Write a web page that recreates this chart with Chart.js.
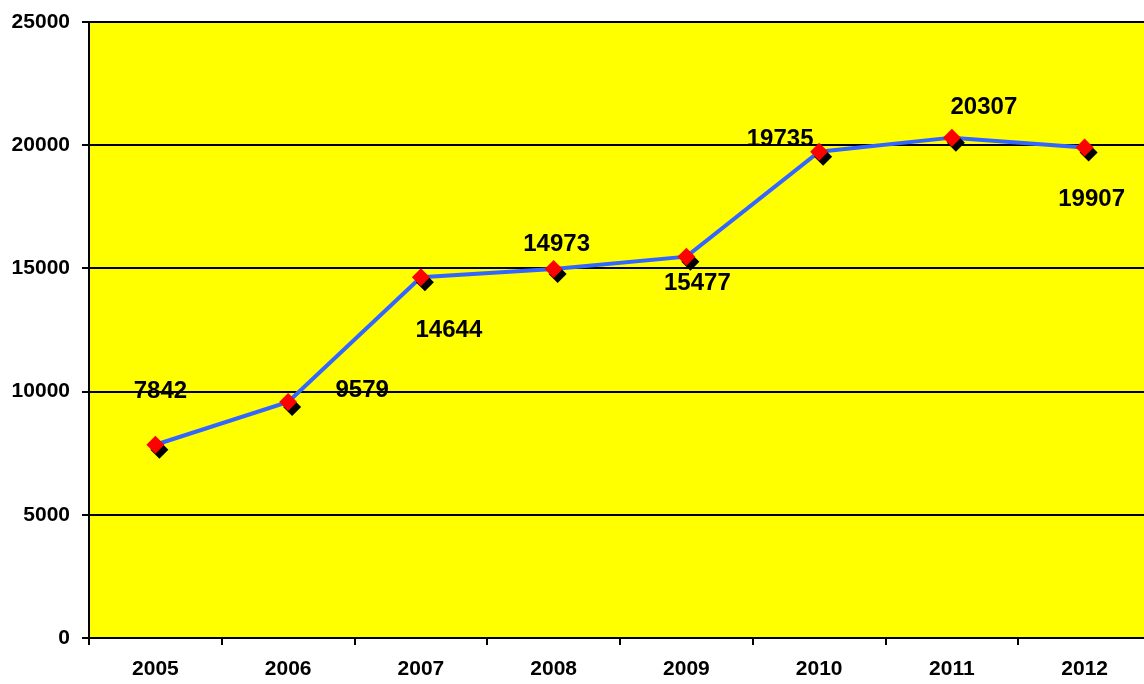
<!DOCTYPE html>
<html>
<head>
<meta charset="utf-8">
<script src="https://cdn.jsdelivr.net/npm/chart.js@4/dist/chart.umd.min.js"></script>
<style>
    html, body { margin: 0; padding: 0; background: #fff; overflow: hidden; }
    #wrap { width: 1144px; height: 684px; overflow: hidden; }
</style>
</head>
<body>
<div id="wrap"><canvas id="chart" width="1160" height="684"></canvas></div>
<script>
const years = ['2005', '2006', '2007', '2008', '2009', '2010', '2011', '2012'];
const values = [7842, 9579, 14644, 14973, 15477, 19735, 20307, 19907];
const yTicks = [0, 5000, 10000, 15000, 20000, 25000];

const FONT = "'Liberation Sans', Arial, sans-serif";

// where each value label sits relative to its marker
const labelOffsets = [[5, -53], [74, -12], [28, 53], [3, -25], [11, 27], [-39, -12], [32, -30], [7, 52]];

const plotBackground = {
    id: 'plotBackground',
    beforeDraw(chart) {
        const a = chart.chartArea;
        const ctx = chart.ctx;
        ctx.save();
        ctx.fillStyle = '#FFFF00';
        ctx.fillRect(a.left, a.top, a.right - a.left, a.bottom - a.top);
        ctx.restore();
    }
};

const markerShadow = {
    id: 'markerShadow',
    afterDatasetDraw(chart, args) {
        if (args.index !== 1) return;
        const ctx = chart.ctx;
        const r = 9;
        ctx.save();
        ctx.fillStyle = '#000';
        args.meta.data.forEach(p => {
            const x = p.x + 4, y = p.y + 5;
            ctx.beginPath();
            ctx.moveTo(x, y - r);
            ctx.lineTo(x + r, y);
            ctx.lineTo(x, y + r);
            ctx.lineTo(x - r, y);
            ctx.closePath();
            ctx.fill();
        });
        ctx.restore();
    }
};

const valueLabels = {
    id: 'valueLabels',
    afterDatasetsDraw(chart) {
        const ctx = chart.ctx;
        const meta = chart.getDatasetMeta(0);
        ctx.save();
        ctx.font = 'bold 24px ' + FONT;
        ctx.fillStyle = '#000';
        ctx.textAlign = 'center';
        ctx.textBaseline = 'middle';
        meta.data.forEach((p, i) => {
            const off = labelOffsets[i];
            ctx.fillText(String(values[i]), p.x + off[0], p.y + off[1]);
        });
        ctx.restore();
    }
};

new Chart(document.getElementById('chart'), {
    type: 'line',
    data: {
        labels: years,
        datasets: [
            {
                data: values,
                showLine: false,
                pointStyle: 'rectRot',
                pointRadius: 9,
                pointHoverRadius: 9,
                pointBackgroundColor: '#FF0000',
                pointBorderWidth: 0,
                order: 1
            },
            {
                data: values,
                borderColor: '#3366FF',
                borderWidth: 4,
                tension: 0,
                pointRadius: 0,
                fill: false,
                order: 2
            }
        ]
    },
    options: {
        responsive: false,
        animation: false,
        devicePixelRatio: 1,
        layout: { padding: { top: 22, right: 7, left: 0, bottom: 0 } },
        plugins: {
            legend: { display: false },
            tooltip: { enabled: false }
        },
        scales: {
            x: {
                offset: true,
                grid: {
                    offset: true,
                    drawOnChartArea: false,
                    drawTicks: true,
                    tickLength: 7,
                    color: '#000',
                    lineWidth: 2
                },
                border: { color: '#000', width: 2 },
                ticks: {
                    color: '#000',
                    padding: 12,
                    maxRotation: 0,
                    font: { family: FONT, size: 21, weight: 'bold' }
                },
                afterFit(scale) {
                    scale.height = 46;
                    scale.paddingLeft = 0;
                    scale.paddingRight = 0;
                }
            },
            y: {
                min: 0,
                max: 25000,
                afterBuildTicks(scale) {
                    scale.ticks = yTicks.map(v => ({ value: v }));
                },
                grid: {
                    color: '#000',
                    lineWidth: 2,
                    tickLength: 7
                },
                border: { color: '#000', width: 2 },
                ticks: {
                    color: '#000',
                    padding: 12,
                    font: { family: FONT, size: 21, weight: 'bold' },
                    callback: v => String(v)
                },
                afterFit(scale) {
                    scale.width = 89;
                    scale.paddingTop = 0;
                    scale.paddingBottom = 0;
                }
            }
        }
    },
    plugins: [plotBackground, markerShadow, valueLabels]
});
</script>
</body>
</html>
